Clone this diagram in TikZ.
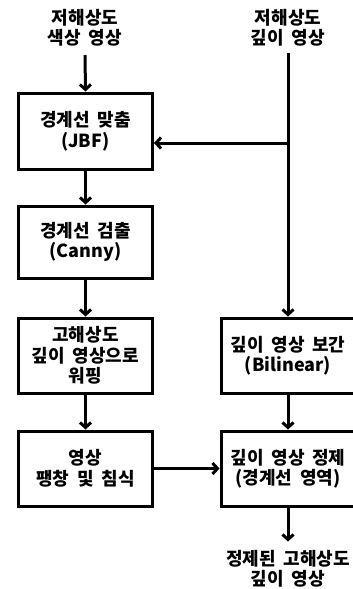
\documentclass[tikz,border=0pt]{standalone}
\usepackage{fontspec}
\setmainfont{Noto Sans CJK KR}[WordSpace=1.9]
\usetikzlibrary{arrows.meta}
\begin{document}
\begin{tikzpicture}[x=1pt,y=-1pt,
  every node/.style={font=\fontsize{18}{20.5}\selectfont\bfseries, align=center, inner sep=0pt},
  procbox/.style={draw, line width=3pt, minimum width=134pt},
  conn/.style={line width=3pt, -{Straight Barb[length=5pt,width=11pt,line width=3pt]}},
  plain/.style={line width=3pt}]
\useasboundingbox (0,0) rectangle (353,589);
\node (inL) at (85,28) {저해상도\\색상 영상};
\node (inR) at (288,28) {저해상도\\깊이 영상};
\node[procbox, minimum height=76pt] (b1) at (85.5,131) {경계선 맞춤\\(JBF)};
\node[procbox, minimum height=72pt] (b2) at (85.5,242) {경계선 검출\\(Canny)};
\node[procbox, minimum height=75pt] (b3) at (85.5,355.5) {고해상도\\깊이 영상으로\\워핑};
\node[procbox, minimum height=75pt] (b4) at (85.5,468.5) {영상\\팽창 및 침식};
\node[procbox, minimum height=75pt] (r1) at (288,355.5) {깊이 영상 보간\\(Bilinear)};
\node[procbox, minimum height=75pt] (r2) at (288,468.5) {깊이 영상 정제\\(경계선 영역)};
\node (out) at (288,569) {정제된 고해상도\\깊이 영상};
\coordinate (j) at (288,143);
\draw[conn] (85,55) -- (b1.north);
\draw[plain] (288,53) -- (j);
\draw[conn] (j) -- (r1.north);
\draw[conn] (j) -- (j -| b1.east);
\draw[conn] (b1) -- (b2);
\draw[conn] (b2) -- (b3);
\draw[conn] (b3) -- (b4);
\draw[conn] (r1) -- (r2);
\draw[conn] (b4) -- (r2);
\draw[conn] (r2.south) -- ++(0,34);
\end{tikzpicture}
\end{document}
